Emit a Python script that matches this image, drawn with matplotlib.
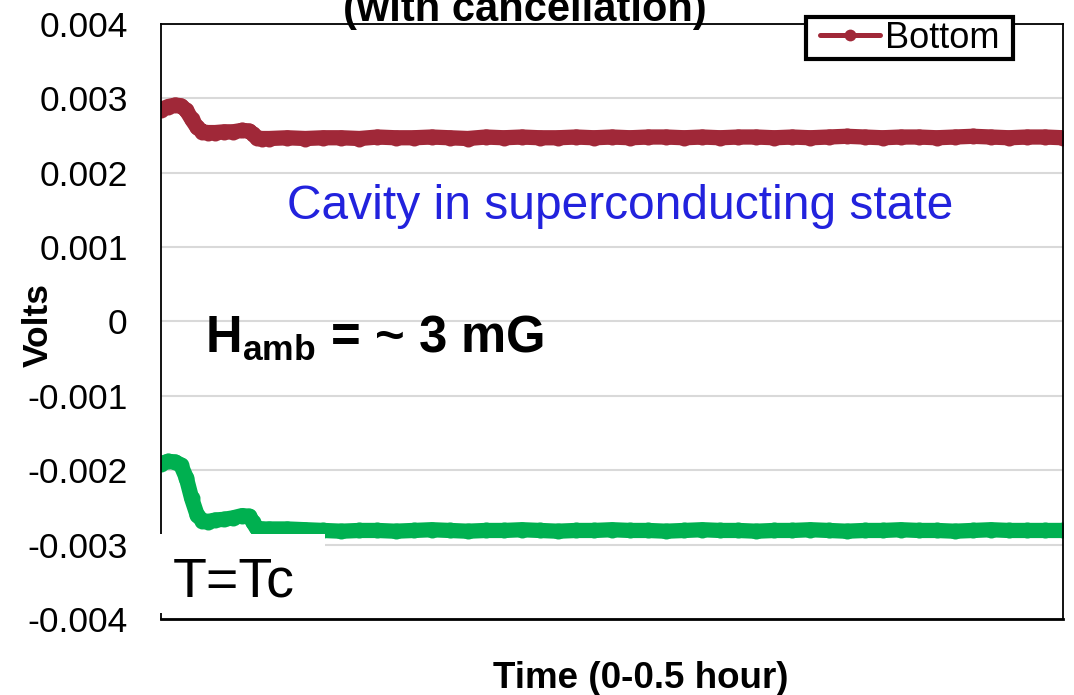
import matplotlib
matplotlib.use('Agg')
from matplotlib import pyplot as plt
from matplotlib.patches import Rectangle
from matplotlib.path import Path

plt.rcParams['font.family'] = ['Liberation Sans', 'DejaVu Sans']
plt.rcParams['mathtext.fontset'] = 'custom'
plt.rcParams['mathtext.bf'] = 'Liberation Sans:bold'
plt.rcParams['mathtext.rm'] = 'Liberation Sans'

# time in hours
time_h = [0.000, 0.004, 0.008, 0.011, 0.014, 0.017, 0.020, 0.023, 0.026, 0.030,
          0.035, 0.040, 0.045, 0.049, 0.051, 0.053, 0.056, 0.060, 0.070, 0.080,
          0.090, 0.100, 0.110, 0.120, 0.130, 0.140, 0.150, 0.160, 0.170, 0.180,
          0.190, 0.200, 0.210, 0.220, 0.230, 0.240, 0.250, 0.260, 0.270, 0.280,
          0.290, 0.300, 0.310, 0.320, 0.330, 0.340, 0.350, 0.360, 0.370, 0.380,
          0.390, 0.400, 0.410, 0.420, 0.430, 0.440, 0.450, 0.460, 0.470, 0.480,
          0.490, 0.500]

# bottom sensor, volts
bottom_v = [0.00285, 0.00289, 0.00291, 0.00290, 0.00284, 0.00272, 0.00261, 0.00255, 0.00254, 0.00254,
            0.00255, 0.00255, 0.00257, 0.00256, 0.00252, 0.00247, 0.00246, 0.00246, 0.00247, 0.00246,
            0.00247, 0.00247, 0.00246, 0.00248, 0.00247, 0.00247, 0.00248, 0.00247, 0.00246, 0.00248,
            0.00247, 0.00248, 0.00247, 0.00247, 0.00248, 0.00247, 0.00248, 0.00247, 0.00248, 0.00248,
            0.00247, 0.00248, 0.00247, 0.00248, 0.00248, 0.00247, 0.00248, 0.00247, 0.00248, 0.00249,
            0.00248, 0.00247, 0.00248, 0.00248, 0.00247, 0.00248, 0.00249, 0.00248, 0.00247, 0.00248,
            0.00248, 0.00247]

# second sensor, volts
other_v = [-0.00191, -0.00188, -0.00189, -0.00193, -0.00210, -0.00238, -0.00260, -0.00268, -0.00269, -0.00267,
           -0.00266, -0.00264, -0.00261, -0.00262, -0.00270, -0.00278, -0.00279, -0.00279, -0.00279, -0.00280,
           -0.00281, -0.00282, -0.00281, -0.00281, -0.00282, -0.00281, -0.00280, -0.00281, -0.00282, -0.00281,
           -0.00281, -0.00280, -0.00281, -0.00282, -0.00281, -0.00281, -0.00280, -0.00281, -0.00281, -0.00282,
           -0.00281, -0.00280, -0.00281, -0.00281, -0.00282, -0.00281, -0.00281, -0.00280, -0.00281, -0.00282,
           -0.00281, -0.00281, -0.00280, -0.00281, -0.00281, -0.00282, -0.00281, -0.00280, -0.00281, -0.00281,
           -0.00281, -0.00281]

y_ticks = [-0.004, -0.003, -0.002, -0.001, 0, 0.001, 0.002, 0.003, 0.004]
y_tick_labels = ['-0.004', '-0.003', '-0.002', '-0.001', '0', '0.001', '0.002', '0.003', '0.004']

red = '#a02838'
green = '#00b050'


def wide_box(x0, y0, width, height, mutation_size):
    # square frame with extra room left and right only
    dx = 0.28 * mutation_size
    return Path([(x0 - dx, y0), (x0 + width + dx, y0), (x0 + width + dx, y0 + height),
                 (x0 - dx, y0 + height), (x0 - dx, y0)], closed=True)


fig = plt.figure(figsize=(10.74, 6.95), dpi=100)
ax = fig.add_axes([0.1499, 0.1094, 0.8399, 0.8561])

ax.plot(time_h, bottom_v, color=red, lw=11, marker='o', ms=11.5, mew=0,
        solid_capstyle='round', solid_joinstyle='round', label='Bottom', zorder=2)
ax.plot(time_h, other_v, color=green, lw=11, marker='o', ms=11.5, mew=0,
        solid_capstyle='round', solid_joinstyle='round', zorder=2)

ax.set_xlim(0, 0.5)
ax.set_ylim(-0.004, 0.004)
ax.set_yticks(y_ticks)
ax.set_yticklabels(y_tick_labels)
ax.set_xticks([])
ax.tick_params(axis='y', length=0, pad=24, labelsize=25.5)
ax.yaxis.grid(True, color='#d9d9d9', lw=1.5)
ax.set_axisbelow(True)
for side in ['left', 'right', 'top', 'bottom']:
    ax.spines[side].set_color('black')
    ax.spines[side].set_linewidth(1.3)
ax.spines['bottom'].set_linewidth(2)

# white patch behind the T=Tc label
ax.add_patch(Rectangle((-0.007, 0.01), 0.189, 0.133, transform=ax.transAxes,
                       facecolor='white', edgecolor='none', clip_on=False, zorder=3))
ax.text(0.0067, -0.0037, 'T=Tc', fontsize=40, va='baseline', ha='left', zorder=4)

ax.text(0.2545, 0.00155, 'Cavity in superconducting state', fontsize=34.5,
        color='#2222dd', ha='center', va='center')
ax.text(0.0244, -0.00040, r'$\mathbf{H_{amb}}$ = ~ 3 mG', fontsize=36.5,
        fontweight='bold', ha='left', va='baseline')

leg = ax.legend(loc='upper right', bbox_to_anchor=(1003 / 1074, 0.9755),
                bbox_transform=fig.transFigure, fontsize=26, frameon=True,
                framealpha=1, fancybox=False, borderpad=0.1, borderaxespad=0,
                handlelength=1.67, handletextpad=0.14)
frame = leg.get_frame()
frame.set_boxstyle(wide_box)
frame.set_edgecolor('black')
frame.set_linewidth(3)
for h in leg.get_lines():
    h.set_linewidth(3.6)
    h.set_markersize(8.5)
leg.set_zorder(5)

fig.text(525 / 1074, 0.970, '(with cancellation)', fontsize=30, fontweight='bold',
         ha='center', va='baseline')
fig.text(38 / 1074, 1 - 325 / 695, 'Volts', fontsize=25.5, fontweight='bold',
         rotation=90, ha='center', va='center')
fig.text(641 / 1074, 0.010, 'Time (0-0.5 hour)', fontsize=26.5, fontweight='bold',
         ha='center', va='baseline')

fig.savefig('out.png', dpi=100)
